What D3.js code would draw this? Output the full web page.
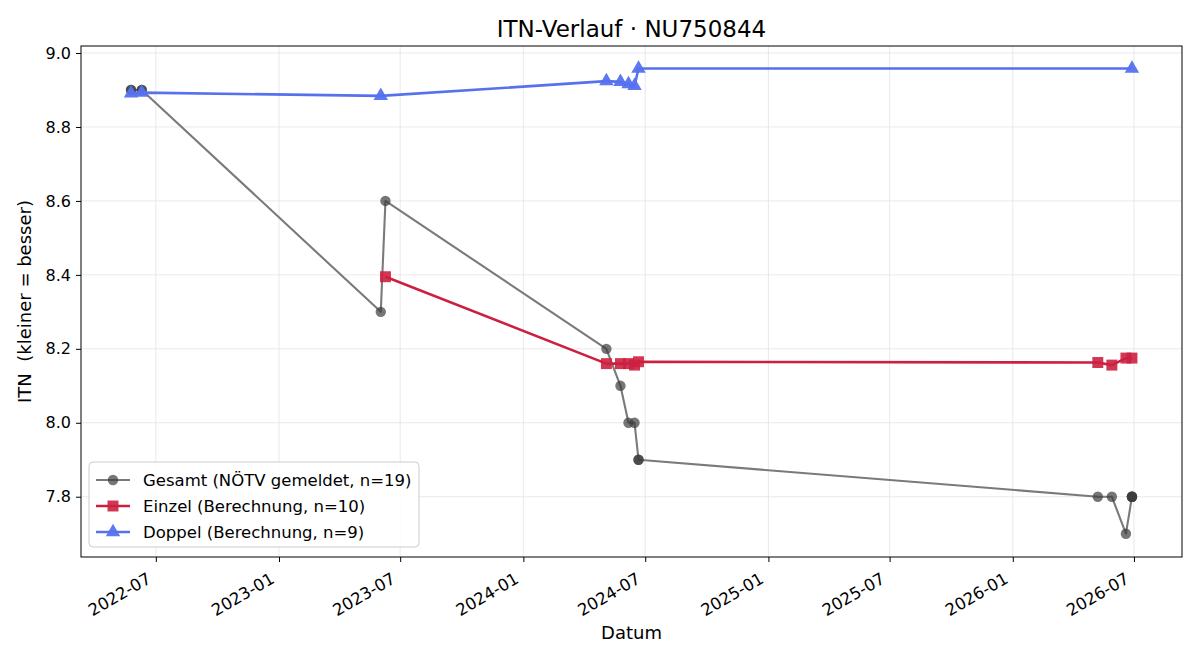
<!DOCTYPE html>
<html>
<head>
<meta charset="utf-8">
<script src="https://cdn.jsdelivr.net/npm/d3@7"></script>
<style>
  body { margin: 0; background: #fff; }
  text { font-family: "DejaVu Sans", sans-serif; }
</style>
</head>
<body>
<div id="chart"></div>
<script>
// Gesamt (NÖTV gemeldet) – some dates repeat, points overlap
const gesamtDates = ["2022-05-25","2022-05-25","2022-06-10","2022-06-10","2023-06-02","2023-06-09",
  "2024-05-04","2024-05-25","2024-06-06","2024-06-15","2024-06-21","2024-06-21",
  "2026-05-08","2026-05-29","2026-06-19","2026-06-28","2026-06-28","2026-06-28","2026-06-28"];
const gesamtValues = [8.9, 8.9, 8.9, 8.9, 8.3, 8.6,
  8.2, 8.1, 8.0, 8.0, 7.9, 7.9,
  7.8, 7.8, 7.7, 7.8, 7.8, 7.8, 7.8];

const einzelDates = ["2023-06-09","2024-05-04","2024-05-25","2024-06-06","2024-06-15","2024-06-21",
  "2026-05-08","2026-05-29","2026-06-19","2026-06-28"];
const einzelValues = [8.395, 8.16, 8.16, 8.16, 8.156, 8.165, 8.163, 8.156, 8.175, 8.175];

const doppelDates = ["2022-05-25","2022-06-10","2023-06-02","2024-05-04","2024-05-25","2024-06-06",
  "2024-06-15","2024-06-21","2026-06-28"];
const doppelValues = [8.891, 8.893, 8.884, 8.924, 8.922, 8.916, 8.911, 8.958, 8.958];

const yTicks = [7.8, 8.0, 8.2, 8.4, 8.6, 8.8, 9.0];

const parse = d3.timeParse("%Y-%m-%d");
const mk = (ds, vs) => ds.map((d, i) => ({ date: parse(d), value: vs[i] }));

const series = [
  { name: "Gesamt (NÖTV gemeldet, n=19)", data: mk(gesamtDates, gesamtValues),
    line: "#7a7a7a", lw: 2.1, marker: "circle", fill: "#3c3c3c", mop: 0.7 },
  { name: "Einzel (Berechnung, n=10)", data: mk(einzelDates, einzelValues),
    line: "#cc2040", lw: 2.6, marker: "square", fill: "#cc2040", mop: 0.9 },
  { name: "Doppel (Berechnung, n=9)", data: mk(doppelDates, doppelValues),
    line: "#5571ee", lw: 2.6, marker: "triangle", fill: "#5571ee", mop: 0.95 }
];

const width = 1200, height = 660;
const margin = { top: 46, right: 18, bottom: 103, left: 81 };
const iw = width - margin.left - margin.right;
const ih = height - margin.top - margin.bottom;

const svg = d3.select("#chart").append("svg")
  .attr("width", width).attr("height", height);

const all = series.flatMap(s => s.data);
const [x0, x1] = d3.extent(all, d => d.date);
const pad = (x1 - x0) * 0.05;
const x = d3.scaleTime()
  .domain([new Date(+x0 - pad), new Date(+x1 + pad)])
  .range([0, iw]);

const y = d3.scaleLinear()
  .domain([7.637, 9.019])
  .range([ih, 0]);

const g = svg.append("g").attr("transform", `translate(${margin.left},${margin.top})`);

const xTicks = d3.timeMonth.every(6).range(x.domain()[0], x.domain()[1]);

// grid
g.append("g").selectAll("line").data(xTicks).enter().append("line")
  .attr("x1", d => x(d)).attr("x2", d => x(d))
  .attr("y1", 0).attr("y2", ih)
  .attr("stroke", "#e3e3e3").attr("stroke-width", 0.8);
g.append("g").selectAll("line").data(yTicks).enter().append("line")
  .attr("x1", 0).attr("x2", iw)
  .attr("y1", d => y(d)).attr("y2", d => y(d))
  .attr("stroke", "#e3e3e3").attr("stroke-width", 0.8);

// axes
const xAxis = g.append("g").attr("transform", `translate(0,${ih})`)
  .call(d3.axisBottom(x).tickValues(xTicks).tickFormat(d3.timeFormat("%Y-%m")).tickSize(5));
xAxis.selectAll("text")
  .attr("font-size", 16.5).attr("fill", "#000")
  .attr("text-anchor", "end")
  .attr("y", 0).attr("dy", 0)
  .attr("transform", "translate(-4,25) rotate(-30)");

const yAxis = g.append("g")
  .call(d3.axisLeft(y).tickValues(yTicks).tickFormat(d3.format(".1f")).tickSize(5).tickPadding(5));
yAxis.selectAll("text").attr("font-size", 16).attr("fill", "#000");
[xAxis, yAxis].forEach(a => { a.select(".domain").remove(); a.selectAll("line").attr("stroke", "#000"); });

g.append("rect").attr("width", iw).attr("height", ih)
  .attr("fill", "none").attr("stroke", "#000").attr("stroke-width", 1);

// series
const line = d3.line().x(d => x(d.date)).y(d => y(d.value));
const sym = {
  circle: d3.symbol().type(d3.symbolCircle).size(85),
  square: d3.symbol().type(d3.symbolSquare).size(120),
  triangle: d3.symbol().type(d3.symbolTriangle).size(90)
};

series.forEach(s => {
  g.append("path").datum(s.data)
    .attr("d", line).attr("fill", "none")
    .attr("stroke", s.line).attr("stroke-width", s.lw)
    .attr("stroke-linejoin", "round");
  g.append("g").selectAll("path").data(s.data).enter().append("path")
    .attr("d", sym[s.marker])
    .attr("transform", d => `translate(${x(d.date)},${y(d.value)})`)
    .attr("fill", s.fill).attr("fill-opacity", s.mop);
});

// legend
const lg = g.append("g").attr("transform", "translate(8,416)");
lg.append("rect").attr("width", 330).attr("height", 85).attr("rx", 4)
  .attr("fill", "#fff").attr("fill-opacity", 0.85)
  .attr("stroke", "#cccccc");
series.forEach((s, i) => {
  const yy = 18 + i * 26;
  lg.append("line").attr("x1", 7).attr("x2", 41).attr("y1", yy).attr("y2", yy)
    .attr("stroke", s.line).attr("stroke-width", s.lw);
  lg.append("path").attr("d", sym[s.marker])
    .attr("transform", `translate(24,${yy})`)
    .attr("fill", s.fill).attr("fill-opacity", s.mop);
  lg.append("text").attr("x", 54).attr("y", yy).attr("dy", "0.35em")
    .attr("font-size", 16.5).text(s.name);
});

// labels
svg.append("text").attr("x", margin.left + iw / 2).attr("y", 37)
  .attr("text-anchor", "middle").attr("font-size", 23).text("ITN-Verlauf · NU750844");
svg.append("text").attr("x", margin.left + iw / 2).attr("y", 639)
  .attr("text-anchor", "middle").attr("font-size", 18).text("Datum");
svg.append("text")
  .attr("transform", `translate(31,${margin.top + ih / 2}) rotate(-90)`)
  .attr("text-anchor", "middle").attr("font-size", 18)
  .style("white-space", "pre").text("ITN  (kleiner = besser)");
</script>
</body>
</html>
